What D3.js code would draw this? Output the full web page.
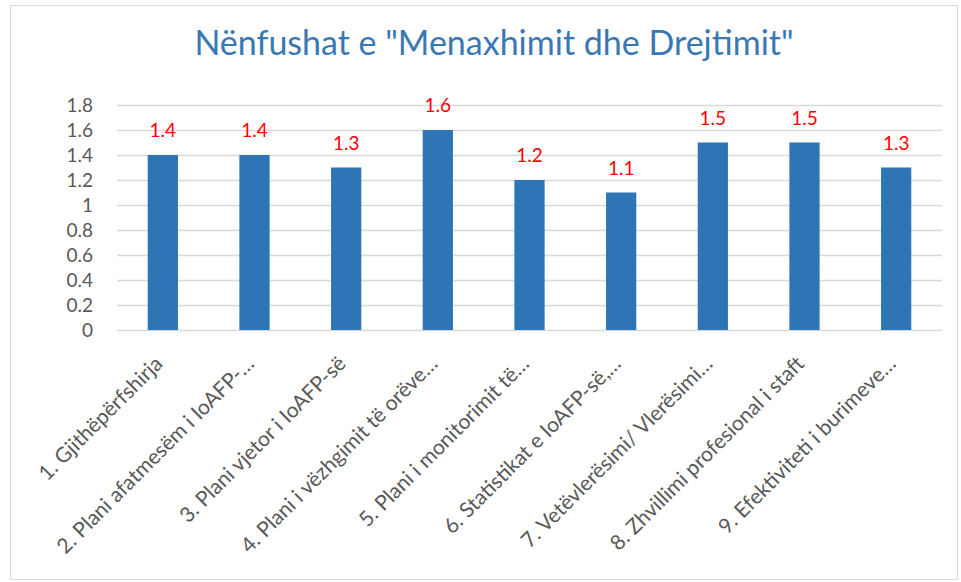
<!DOCTYPE html>
<html>
<head>
<meta charset="utf-8">
<script src="https://cdn.jsdelivr.net/npm/d3@7"></script>
<style>
  body { margin: 0; background: #fff; }
  svg { display: block; font-family: Lato, "Open Sans", sans-serif; }
</style>
</head>
<body>
<div id="chart"></div>
<script>
// chart data
var title = "Nënfushat e \"Menaxhimit dhe Drejtimit\"";
var categories = [
  "1. Gjithëpërfshirja",
  "2. Plani afatmesëm i IoAFP-…",
  "3. Plani vjetor i IoAFP-së",
  "4. Plani i vëzhgimit të orëve…",
  "5.  Plani i monitorimit të…",
  "6. Statistikat e IoAFP-së,…",
  "7. Vetëvlerësimi/ Vlerësimi…",
  "8. Zhvillimi profesional i staft",
  "9. Efektiviteti i burimeve…"
];
var values = [1.4, 1.4, 1.3, 1.6, 1.2, 1.1, 1.5, 1.5, 1.3];
var yTicks = [0, 0.2, 0.4, 0.6, 0.8, 1, 1.2, 1.4, 1.6, 1.8];

let width = 961;
let height = 582;

var svg = d3.select("#chart")
  .append("svg")
    .attr("width", width)
    .attr("height", height);

// chart frame
svg.append("rect")
  .attr("x", 10.5)
  .attr("y", 5.5)
  .attr("width", 947)
  .attr("height", 574)
  .attr("fill", "#fff")
  .attr("stroke", "#d9d9d9");

svg.append("text")
  .attr("x", 494)
  .attr("y", 55)
  .attr("text-anchor", "middle")
  .style("font-size", "34px")
  .style("fill", "#3a78b4")
  .text(title);

var x = d3.scaleBand()
  .domain(categories)
  .range([117, 942])
  .paddingInner(0.67)
  .paddingOuter(0.335);

var y = d3.scaleLinear()
  .domain([0, 1.8])
  .range([330, 105]);

// gridlines
svg.append("g")
  .selectAll("line")
  .data(yTicks)
  .join("line")
    .attr("x1", 117)
    .attr("x2", 942)
    .attr("y1", function (d) { return Math.round(y(d)) + 0.5; })
    .attr("y2", function (d) { return Math.round(y(d)) + 0.5; })
    .attr("stroke", "#d9d9d9")
    .attr("stroke-width", 1.5);

// y axis labels
var yAxis = svg.append("g")
  .attr("transform", "translate(93,0)")
  .call(d3.axisLeft(y).tickValues(yTicks).tickSize(0).tickPadding(0)
    .tickFormat(function (d) { return String(d); }));
yAxis.select(".domain").remove();
yAxis.selectAll("text")
  .style("font-family", "Lato, sans-serif")
  .style("font-size", "19px")
  .style("fill", "#595959");

// bars
svg.append("g")
  .selectAll("rect")
  .data(values)
  .join("rect")
    .attr("x", function (d, i) { return x(categories[i]); })
    .attr("y", function (d) { return y(d); })
    .attr("width", x.bandwidth())
    .attr("height", function (d) { return y(0) - y(d); })
    .attr("fill", "#2e75b6");

// data labels
svg.append("g")
  .selectAll("text")
  .data(values)
  .join("text")
    .attr("x", function (d, i) { return x(categories[i]) + x.bandwidth() / 2; })
    .attr("y", function (d) { return y(d) - 18; })
    .attr("text-anchor", "middle")
    .style("font-size", "19px")
    .style("fill", "#ff0000")
    .text(function (d) { return d.toFixed(1); });

// category labels, rotated
svg.append("g")
  .selectAll("text")
  .data(categories)
  .join("text")
    .attr("transform", function (d) {
      return "translate(" + (x(d) + x.bandwidth() / 2 + 1) + ",365) rotate(-45)";
    })
    .attr("text-anchor", "end")
    .style("font-size", "21px")
    .style("fill", "#595959")
    .text(function (d) { return d; });
</script>
</body>
</html>
